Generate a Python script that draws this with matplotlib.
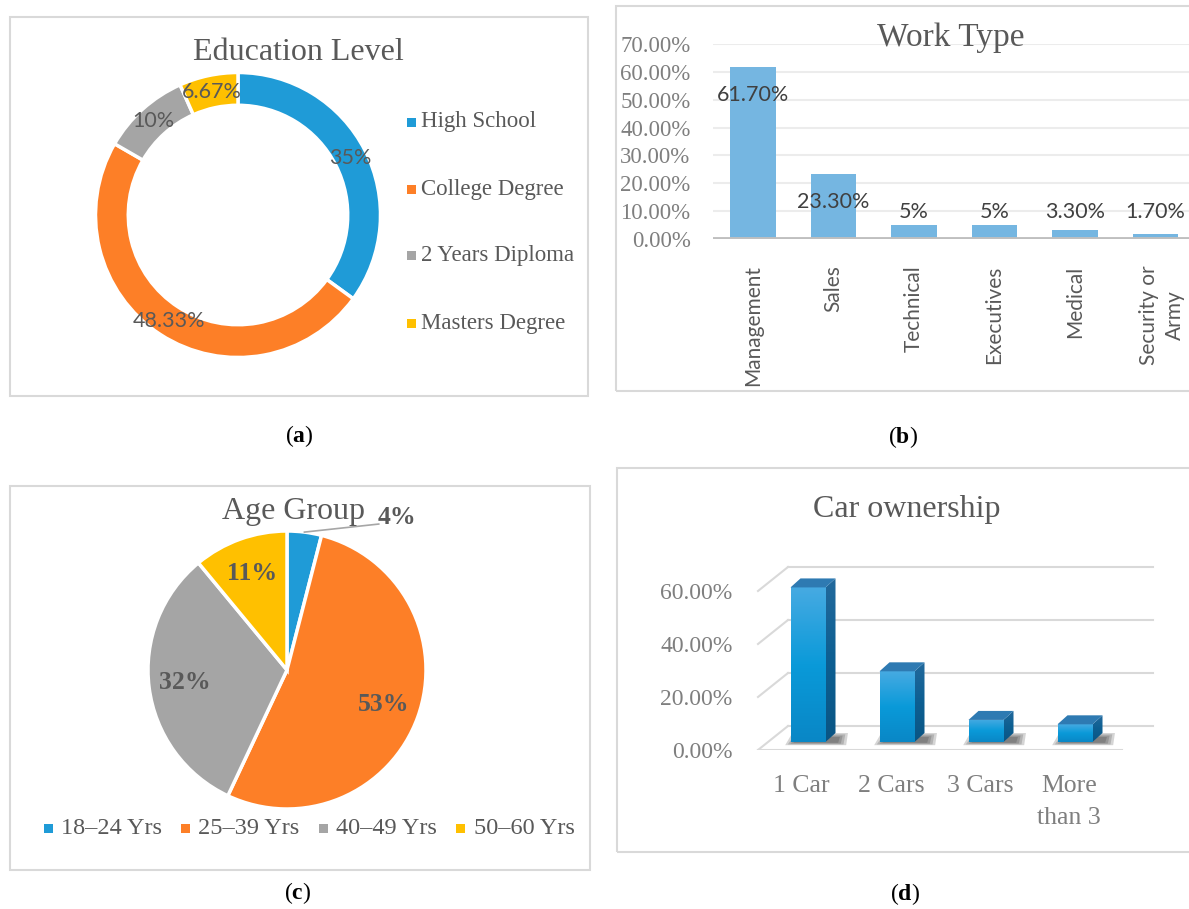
import numpy as np
import matplotlib.pyplot as plt
from matplotlib.patches import Rectangle, Polygon
from matplotlib.colors import LinearSegmentedColormap

W, H = 1189, 909

# (a) 学歴
edu_labels = ["High School", "College Degree", "2 Years Diploma", "Masters Degree"]
edu_values = [35, 48.33, 10, 6.67]
edu_colors = ["#1f9bd7", "#fd7f27", "#a5a5a5", "#ffc000"]

# (b) 職種
work_labels = ["Management", "Sales", "Technical", "Executives", "Medical", "Security or\nArmy"]
work_values = [61.7, 23.3, 5, 5, 3.3, 1.7]
work_texts = ["61.70%", "23.30%", "5%", "5%", "3.30%", "1.70%"]
work_ticks = [0, 10, 20, 30, 40, 50, 60, 70]

# (c) 年齢層
age_labels = ["18–24 Yrs", "25–39 Yrs", "40–49 Yrs", "50–60 Yrs"]
age_values = [4, 53, 32, 11]
age_colors = ["#1f9bd7", "#fd7f27", "#a5a5a5", "#ffc000"]

# (d) 車の所有
car_labels = ["1 Car", "2 Cars", "3 Cars", "More\nthan 3"]
car_values = [58.33, 26.67, 8.33, 6.67]
car_ticks = [0, 20, 40, 60]

SERIF = "Liberation Serif"
SANS = "Lato"
TXT = "#595959"
plt.rcParams["mathtext.fontset"] = "custom"
plt.rcParams["mathtext.rm"] = SERIF
plt.rcParams["mathtext.bf"] = SERIF + ":bold"

fig = plt.figure(figsize=(W / 100, H / 100), dpi=100)


def box(x0, y0, x1, y1):
    # ピクセル座標 -> figure座標
    return [x0 / W, 1 - y1 / H, (x1 - x0) / W, (y1 - y0) / H]


def ftext(x, y, s, **kw):
    return fig.text(x / W, 1 - y / H, s, **kw)


def frame(x0, y0, x1, y1):
    fig.add_artist(Rectangle((x0 / W, 1 - y1 / H), (x1 - x0) / W, (y1 - y0) / H,
                             transform=fig.transFigure, fill=False, ec="#d9d9d9", lw=1.5))


def marker(x, y, c, s=9):
    fig.add_artist(Rectangle(((x - s / 2) / W, 1 - (y + s / 2) / H), s / W, s / H,
                             transform=fig.transFigure, color=c, lw=0))


# パネル枠
frame(10, 17, 588, 396)
frame(616, 6, 1200, 391)
frame(10, 486, 590, 870)
frame(617, 468, 1200, 852)

# ---------- (a) ドーナツ ----------
cx, cy, R = 238, 215, 142.5
ax = fig.add_axes(box(cx - 150, cy - 150, cx + 150, cy + 150))
wedges, _, autotexts = ax.pie(edu_values, colors=edu_colors, startangle=90, counterclock=False,
                              radius=1, pctdistance=0.885, autopct="%1.2f",
                              wedgeprops=dict(width=0.23, edgecolor="white", linewidth=2.5))
for t, v in zip(autotexts, edu_values):
    t.set_text(f"{v:g}%")
    t.set_fontfamily(SANS)
    t.set_fontsize(15.5)
    t.set_color(TXT)
lim = 150 / R
ax.set_xlim(-lim, lim)
ax.set_ylim(-lim, lim)
ax.axis("off")
ftext(298, 53, "Education Level", family=SERIF, size=23, color=TXT, ha="center", va="center")
for i, (lab, c) in enumerate(zip(edu_labels, edu_colors)):
    y = 122 + 67 * i
    marker(411, y, c)
    ftext(421, y, lab, family=SERIF, size=16.5, color=TXT, va="center")
ftext(299, 436, r"($\mathbf{a}$)", family=SERIF, size=17, ha="center", va="center")

# ---------- (b) 棒グラフ ----------
step_b = 80.5
ax = fig.add_axes(box(753 - step_b / 2, 44, 753 + 5.5 * step_b, 239))
x = np.arange(len(work_values))
ax.bar(x, work_values, width=0.56, color="#75b6e1", zorder=2)
ax.set_xlim(-0.5, 5.5)
ax.set_ylim(0, 70)
ax.set_yticks(work_ticks)
ax.set_yticklabels([f"{v:.2f}%" for v in work_ticks], family=SERIF, size=16.5, color="#7f7f7f")
tick_pos = x.astype(float)
tick_pos[-1] += 0.08   # 2行ラベルは少し右寄せ
ax.set_xticks(tick_pos)
ax.set_xticklabels(work_labels, rotation=90, family=SANS, size=15, color=TXT, va="top", linespacing=1.35)
ax.tick_params(axis="y", length=0, pad=16)
ax.tick_params(axis="x", length=0, pad=19)
ax.grid(axis="y", color="#ececec", lw=1.5, zorder=0)
ax.axhline(0, color="#bfbfbf", lw=3.5, zorder=3)
for s in ax.spines.values():
    s.set_visible(False)
for xi, v, t in zip(x, work_values, work_texts):
    ax.text(xi, max(v - 10, 9.7), t, ha="center", va="center", family=SANS, size=15.5, color="#404040", zorder=4)
ftext(951, 38, "Work Type", family=SERIF, size=24, color=TXT, ha="center", va="center")
ftext(903, 437, r"($\mathbf{b}$)", family=SERIF, size=17, ha="center", va="center")

# ---------- (c) 円グラフ ----------
cx, cy, R = 287, 670, 139
ax = fig.add_axes(box(cx - 150, cy - 150, cx + 150, cy + 150))
wedges, _, autotexts = ax.pie(age_values, colors=age_colors, startangle=90, counterclock=False,
                              radius=1, pctdistance=0.74, autopct="%1.0f%%",
                              wedgeprops=dict(edgecolor="white", linewidth=2.5))
for t in autotexts:
    t.set_fontfamily(SERIF)
    t.set_fontweight("bold")
    t.set_fontsize(18.5)
    t.set_color(TXT)
# 4% は外側に引き出し線付きで表示
a0 = np.deg2rad(90 - age_values[0] / sum(age_values) * 180)
autotexts[0].set_position((0.79, 1.10))
ax.plot([np.cos(a0), 0.66], [np.sin(a0), 1.05], color="#a6a6a6", lw=1.2, clip_on=False)
lim = 150 / R
ax.set_xlim(-lim, lim)
ax.set_ylim(-lim, lim)
ax.axis("off")
ftext(293, 512, "Age Group", family=SERIF, size=23, color=TXT, ha="center", va="center")
for i, (lab, c) in enumerate(zip(age_labels, age_colors)):
    mx = 48 + 137.5 * i
    marker(mx, 828, c)
    ftext(mx + 13, 828, lab, family=SERIF, size=17.5, color=TXT, va="center")
ftext(298, 893, r"($\mathbf{c}$)", family=SERIF, size=17, ha="center", va="center")

# ---------- (d) 3D風棒グラフ ----------
s = 2.65          # px / %
base_px = 742     # 棒の底
cx0, step = 808, 89
left, right, top, bottom = 745, 1160, 560, 750
ax = fig.add_axes(box(left, top, right, bottom))
front = (base_px - 750) / s        # 手前の床
back = (base_px - 726) / s         # 奥の壁
fx0, fx1 = (758 - cx0) / step, (1122 - cx0) / step
bx0, bx1 = (788 - cx0) / step, (1153 - cx0) / step
gc = "#d9d9d9"
for v in car_ticks:
    ax.plot([bx0, bx1], [back + v, back + v], color=gc, lw=1.5, zorder=1)
    ax.plot([fx0, bx0], [front + v, back + v], color=gc, lw=1.5, zorder=1)
ax.plot([fx0, fx1], [front, front], color=gc, lw=1.5, zorder=1)

w = 35 / step
dx, dy = 10 / step, 9 / s
cm_front = LinearSegmentedColormap.from_list("f", ["#46aae2", "#0a9ad9", "#0987c6"])
cm_side = LinearSegmentedColormap.from_list("sd", ["#22699c", "#0d5f92", "#0a5584"])
grad = np.linspace(0, 1, 64).reshape(-1, 1)
for i, v in enumerate(car_values):
    x0, x1 = i - w / 2, i + w / 2
    # 影（ぼかし風に重ねる）
    for k in range(4):
        e = 0.03 * k
        ax.add_patch(Polygon([(x0 - 0.06 + e, -1.2 + 0.3 * k), (x1 + dx + 0.12 - e, -1.2 + 0.3 * k),
                              (x1 + dx + 0.14 - e, dy - 0.5 * k), (x0 + 0.02 + e, dy - 0.5 * k)],
                             closed=True, color="#1a1a1a", alpha=0.18, lw=0, zorder=2))
    rect = Rectangle((x0, 0), w, v, lw=0, fc="none", zorder=3)
    ax.add_patch(rect)
    im = ax.imshow(grad, extent=[x0, x1, 0, v], origin="upper", cmap=cm_front, aspect="auto", zorder=3)
    im.set_clip_path(rect)
    side = Polygon([(x1, 0), (x1 + dx, dy), (x1 + dx, v + dy), (x1, v)], closed=True, lw=0, fc="none", zorder=3)
    ax.add_patch(side)
    im2 = ax.imshow(grad, extent=[x1, x1 + dx, 0, v + dy], origin="upper", cmap=cm_side, aspect="auto", zorder=3)
    im2.set_clip_path(side)
    ax.add_patch(Polygon([(x0, v), (x1, v), (x1 + dx, v + dy), (x0 + dx, v + dy)], closed=True,
                         color="#2e7ab2", lw=0, zorder=4))
ax.set_xlim((left - cx0) / step, (right - cx0) / step)
ax.set_ylim((base_px - bottom) / s, (base_px - top) / s)
ax.set_yticks([front + v for v in car_ticks])
ax.set_yticklabels([f"{v:.2f}%" for v in car_ticks], family=SERIF, size=17, color="#7f7f7f")
ax.set_xticks(np.arange(len(car_values)) - 0.07)
ax.set_xticklabels(car_labels, family=SERIF, size=18.5, color="#7f7f7f", linespacing=1.6)
ax.tick_params(axis="y", length=0, pad=9)
ax.tick_params(axis="x", length=0, pad=18)
for sp in ax.spines.values():
    sp.set_visible(False)
ftext(907, 510, "Car ownership", family=SERIF, size=23, color=TXT, ha="center", va="center")
ftext(905, 894, r"($\mathbf{d}$)", family=SERIF, size=17, ha="center", va="center")

fig.savefig("out.png", dpi=100)
